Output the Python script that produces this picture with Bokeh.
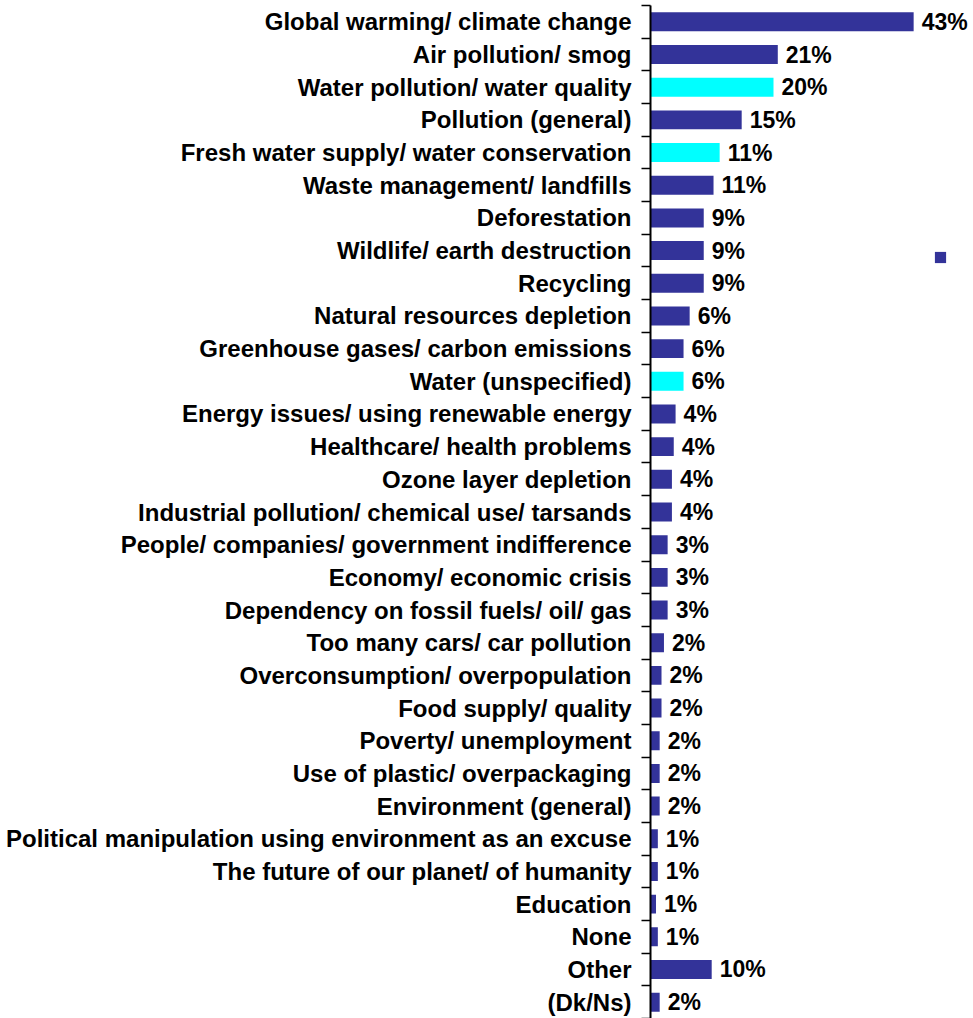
from bokeh.plotting import figure
from bokeh.models import Range1d, FixedTicker, ColumnDataSource, Legend, LegendItem
from bokeh.core.properties import value
from bokeh.embed import file_html
from bokeh.resources import INLINE

categories = [
    "Global warming/ climate change",
    "Air pollution/ smog",
    "Water pollution/ water quality",
    "Pollution (general)",
    "Fresh water supply/ water conservation",
    "Waste management/ landfills",
    "Deforestation",
    "Wildlife/ earth destruction",
    "Recycling",
    "Natural resources depletion",
    "Greenhouse gases/ carbon emissions",
    "Water (unspecified)",
    "Energy issues/ using renewable energy",
    "Healthcare/ health problems",
    "Ozone layer depletion",
    "Industrial pollution/ chemical use/ tarsands",
    "People/ companies/ government indifference",
    "Economy/ economic crisis",
    "Dependency on fossil fuels/ oil/ gas",
    "Too many cars/ car pollution",
    "Overconsumption/ overpopulation",
    "Food supply/ quality",
    "Poverty/ unemployment",
    "Use of plastic/ overpackaging",
    "Environment (general)",
    "Political manipulation using environment as an excuse",
    "The future of our planet/ of humanity",
    "Education",
    "None",
    "Other",
    "(Dk/Ns)",
]
values = [43.0, 20.8, 20.1, 14.9, 11.3, 10.3, 8.7, 8.7, 8.7, 6.4, 5.4, 5.4,
          4.1, 3.8, 3.5, 3.5, 2.8, 2.8, 2.8, 2.2, 1.8, 1.8, 1.5, 1.5, 1.5,
          1.2, 1.2, 0.9, 1.2, 10.0, 1.5]
value_labels = ["43%", "21%", "20%", "15%", "11%", "11%", "9%", "9%", "9%", "6%",
                "6%", "6%", "4%", "4%", "4%", "4%", "3%", "3%", "3%", "2%", "2%",
                "2%", "2%", "2%", "2%", "1%", "1%", "1%", "1%", "10%", "2%"]
water_rows = {2, 4, 11}

NAVY = "#333399"
CYAN = "#00FFFF"
FONT = "Liberation Sans"

n = len(categories)
idx = list(range(n))
colors = [CYAN if i in water_rows else NAVY for i in idx]

src = ColumnDataSource(dict(y=idx, v=values, c=colors, lab=value_labels))

p = figure(width=973, height=1018, output_backend="svg", toolbar_location=None,
           x_range=Range1d(0, 52.78), y_range=Range1d(n - 0.5, -0.5),
           min_border_left=650, min_border_right=0, min_border_top=5, min_border_bottom=0,
           outline_line_color=None, background_fill_color="white", border_fill_color="white")
p.xaxis.visible = False
p.xgrid.visible = False
p.ygrid.visible = False

bars = p.hbar(y="y", right="v", left=0, height=0.58, fill_color="c", line_color=None, source=src)
p.text(x="v", y="y", text="lab", source=src, x_offset=8, text_align="left",
       text_baseline="middle", text_font=value(FONT), text_font_style="bold",
       text_font_size="23px", text_color="black")

ax = p.yaxis[0]
ax.ticker = FixedTicker(ticks=idx, minor_ticks=[i - 0.5 for i in range(n + 1)])
ax.major_label_overrides = {i: c for i, c in zip(idx, categories)}
ax.major_tick_out = 0
ax.major_tick_in = 0
ax.major_tick_line_color = None
ax.minor_tick_out = 9
ax.minor_tick_in = 0
ax.minor_tick_line_color = "black"
ax.minor_tick_line_width = 1.5
ax.axis_line_color = "black"
ax.axis_line_width = 2
ax.major_label_standoff = 10
ax.major_label_text_font = FONT
ax.major_label_text_font_style = "bold"
ax.major_label_text_font_size = "24px"
ax.major_label_text_color = "black"

# unlabeled legend key (small navy square), taken from the first (navy) bar
leg = Legend(items=[LegendItem(label=value(" "), renderers=[bars], index=0)],
             location=(283, 754), padding=0, margin=0, spacing=0,
             glyph_width=14, glyph_height=14, label_standoff=0,
             label_width=0, label_height=0, label_text_font_size="1px",
             border_line_color=None, background_fill_alpha=0)
p.add_layout(leg)

open("out.html", "w").write(file_html(p, INLINE))
